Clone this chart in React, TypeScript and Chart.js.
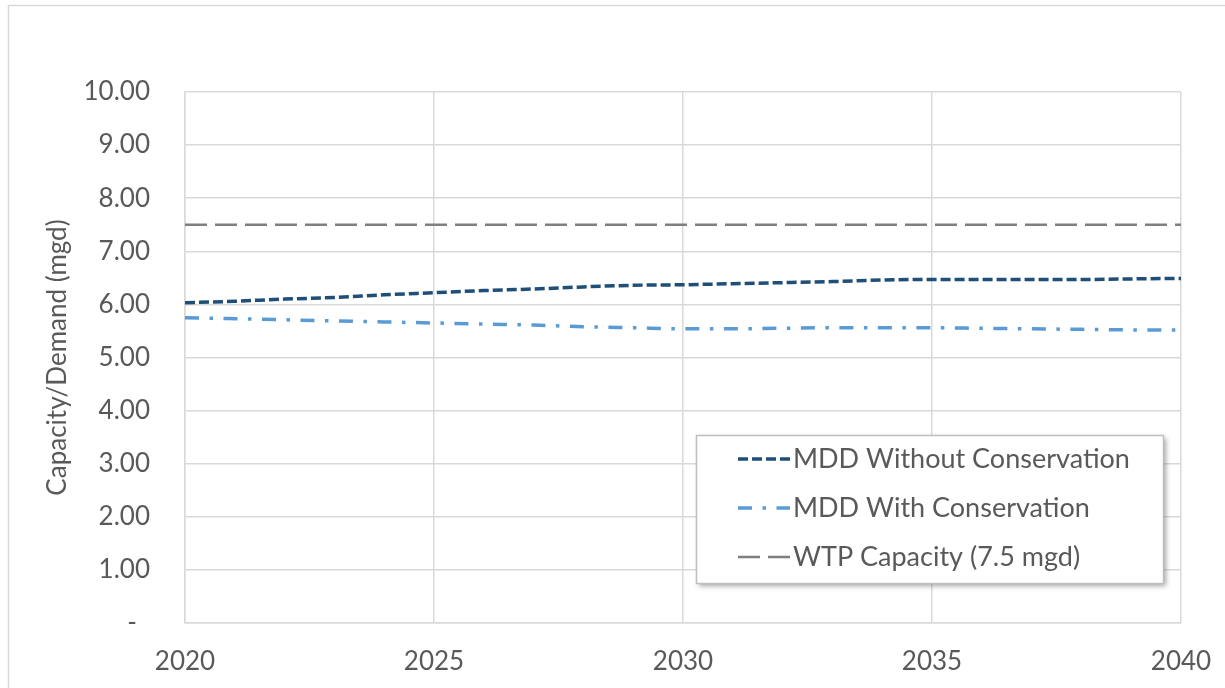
import React, { useEffect, useRef } from "react";
import { Chart, registerables } from "chart.js";

Chart.register(...registerables);

const years = [2020, 2021, 2022, 2023, 2024, 2025, 2026, 2027, 2028, 2029, 2030, 2031, 2032, 2033, 2034, 2035, 2036, 2037, 2038, 2039, 2040];
const mddWithout = [6.03, 6.06, 6.1, 6.13, 6.18, 6.22, 6.26, 6.29, 6.33, 6.36, 6.37, 6.39, 6.41, 6.43, 6.46, 6.47, 6.47, 6.47, 6.47, 6.48, 6.49];
const mddWith = [5.75, 5.73, 5.71, 5.69, 5.67, 5.65, 5.63, 5.61, 5.58, 5.56, 5.54, 5.54, 5.55, 5.56, 5.56, 5.56, 5.55, 5.54, 5.53, 5.52, 5.52];
const wtpCapacity = [7.5, 7.5, 7.5, 7.5, 7.5, 7.5, 7.5, 7.5, 7.5, 7.5, 7.5, 7.5, 7.5, 7.5, 7.5, 7.5, 7.5, 7.5, 7.5, 7.5, 7.5];
const seriesLabels = ["MDD Without Conservation", "MDD With Conservation", "WTP Capacity (7.5 mgd)"];
const yTitle = "Capacity/Demand (mgd)";

const FONT = "Lato";
const TEXT = "#595959";
const GRID = "#d9d9d9";

const frame = {
  id: "frame",
  beforeDraw(chart: any) {
    const ctx = chart.ctx;
    ctx.save();
    ctx.fillStyle = "#ffffff";
    ctx.fillRect(0, 0, chart.width, chart.height);
    ctx.strokeStyle = "#d9d9d9";
    ctx.lineWidth = 1.5;
    ctx.strokeRect(8.5, 5.5, chart.width + 20, chart.height + 20);
    ctx.restore();
  },
};

const boxLegend = {
  id: "boxLegend",
  afterDraw(chart: any) {
    const ctx = chart.ctx;
    const x = 696, y = 435, w = 467, h = 148;
    ctx.save();
    ctx.shadowColor = "rgba(0,0,0,0.35)";
    ctx.shadowBlur = 5;
    ctx.shadowOffsetX = 3;
    ctx.shadowOffsetY = 3;
    ctx.fillStyle = "#ffffff";
    ctx.fillRect(x, y, w, h);
    ctx.restore();
    ctx.save();
    ctx.strokeStyle = "#bfbfbf";
    ctx.lineWidth = 1.5;
    ctx.strokeRect(x + 0.5, y + 0.5, w, h);
    const rows = [459, 508, 557];
    chart.data.datasets.forEach((ds: any, i: number) => {
      const cy = rows[i];
      ctx.save();
      ctx.strokeStyle = ds.borderColor;
      ctx.lineWidth = ds.borderWidth;
      ctx.setLineDash(ds.borderDash || []);
      ctx.lineCap = "butt";
      ctx.beginPath();
      ctx.moveTo(738, cy);
      ctx.lineTo(790, cy);
      ctx.stroke();
      ctx.restore();
      ctx.fillStyle = TEXT;
      ctx.font = `27px ${FONT}`;
      ctx.textBaseline = "middle";
      ctx.textAlign = "left";
      ctx.fillText(ds.label, 793, cy);
    });
    ctx.restore();
  },
};

export default function App() {
  const ref = useRef<HTMLCanvasElement>(null);
  useEffect(() => {
    document.body.style.margin = "0";
    const chart = new Chart(ref.current as HTMLCanvasElement, {
      type: "line",
      data: {
        labels: years,
        datasets: [
          {
            label: seriesLabels[0],
            data: years.map((yr, i) => ({ x: yr, y: mddWithout[i] })),
            borderColor: "#1f4e79",
            borderWidth: 3.5,
            borderDash: [10, 4],
            pointRadius: 0,
            cubicInterpolationMode: "monotone",
            fill: false,
          },
          {
            label: seriesLabels[1],
            data: years.map((yr, i) => ({ x: yr, y: mddWith[i] })),
            borderColor: "#5b9bd5",
            borderWidth: 3.5,
            borderDash: [14, 10.5, 3.5, 10.5],
            pointRadius: 0,
            cubicInterpolationMode: "monotone",
            fill: false,
          },
          {
            label: seriesLabels[2],
            data: years.map((yr, i) => ({ x: yr, y: wtpCapacity[i] })),
            borderColor: "#7f7f7f",
            borderWidth: 2.5,
            borderDash: [22, 8],
            pointRadius: 0,
            fill: false,
          },
        ],
      },
      options: {
        animation: false,
        responsive: false,
        layout: { padding: { left: 0, top: 92, right: 44, bottom: 0 } },
        plugins: { legend: { display: false }, tooltip: { enabled: false } },
        scales: {
          x: {
            type: "linear",
            min: 2020,
            max: 2040,
            ticks: {
              stepSize: 5,
              color: TEXT,
              font: { family: FONT, size: 26 },
              padding: 23,
              callback: (v: any) => String(v),
            },
            grid: { color: GRID, lineWidth: 1.5, drawTicks: false },
            border: { color: GRID, width: 1.5 },
            afterFit: (s: any) => {
              s.height = 65;
              s.paddingLeft = 0;
              s.paddingRight = 0;
            },
          },
          y: {
            min: 0,
            max: 10,
            ticks: {
              stepSize: 1,
              color: TEXT,
              font: { family: FONT, size: 26 },
              padding: 35,
              callback: (v: any) => (v === 0 ? "-\u2002" : Number(v).toFixed(2)),
            },
            grid: { color: GRID, lineWidth: 1.5, drawTicks: false },
            border: { color: GRID, width: 1.5 },
            title: {
              display: true,
              text: yTitle,
              color: TEXT,
              font: { family: FONT, size: 26 },
              padding: { top: 42, bottom: 0 },
            },
            afterFit: (s: any) => {
              s.width = 185;
              s.paddingTop = 0;
              s.paddingBottom = 0;
            },
          },
        },
      },
      plugins: [frame, boxLegend],
    });
    return () => chart.destroy();
  }, []);
  return (
    <canvas ref={ref} width={1225} height={688} style={{ display: "block" }} />
  );
}
